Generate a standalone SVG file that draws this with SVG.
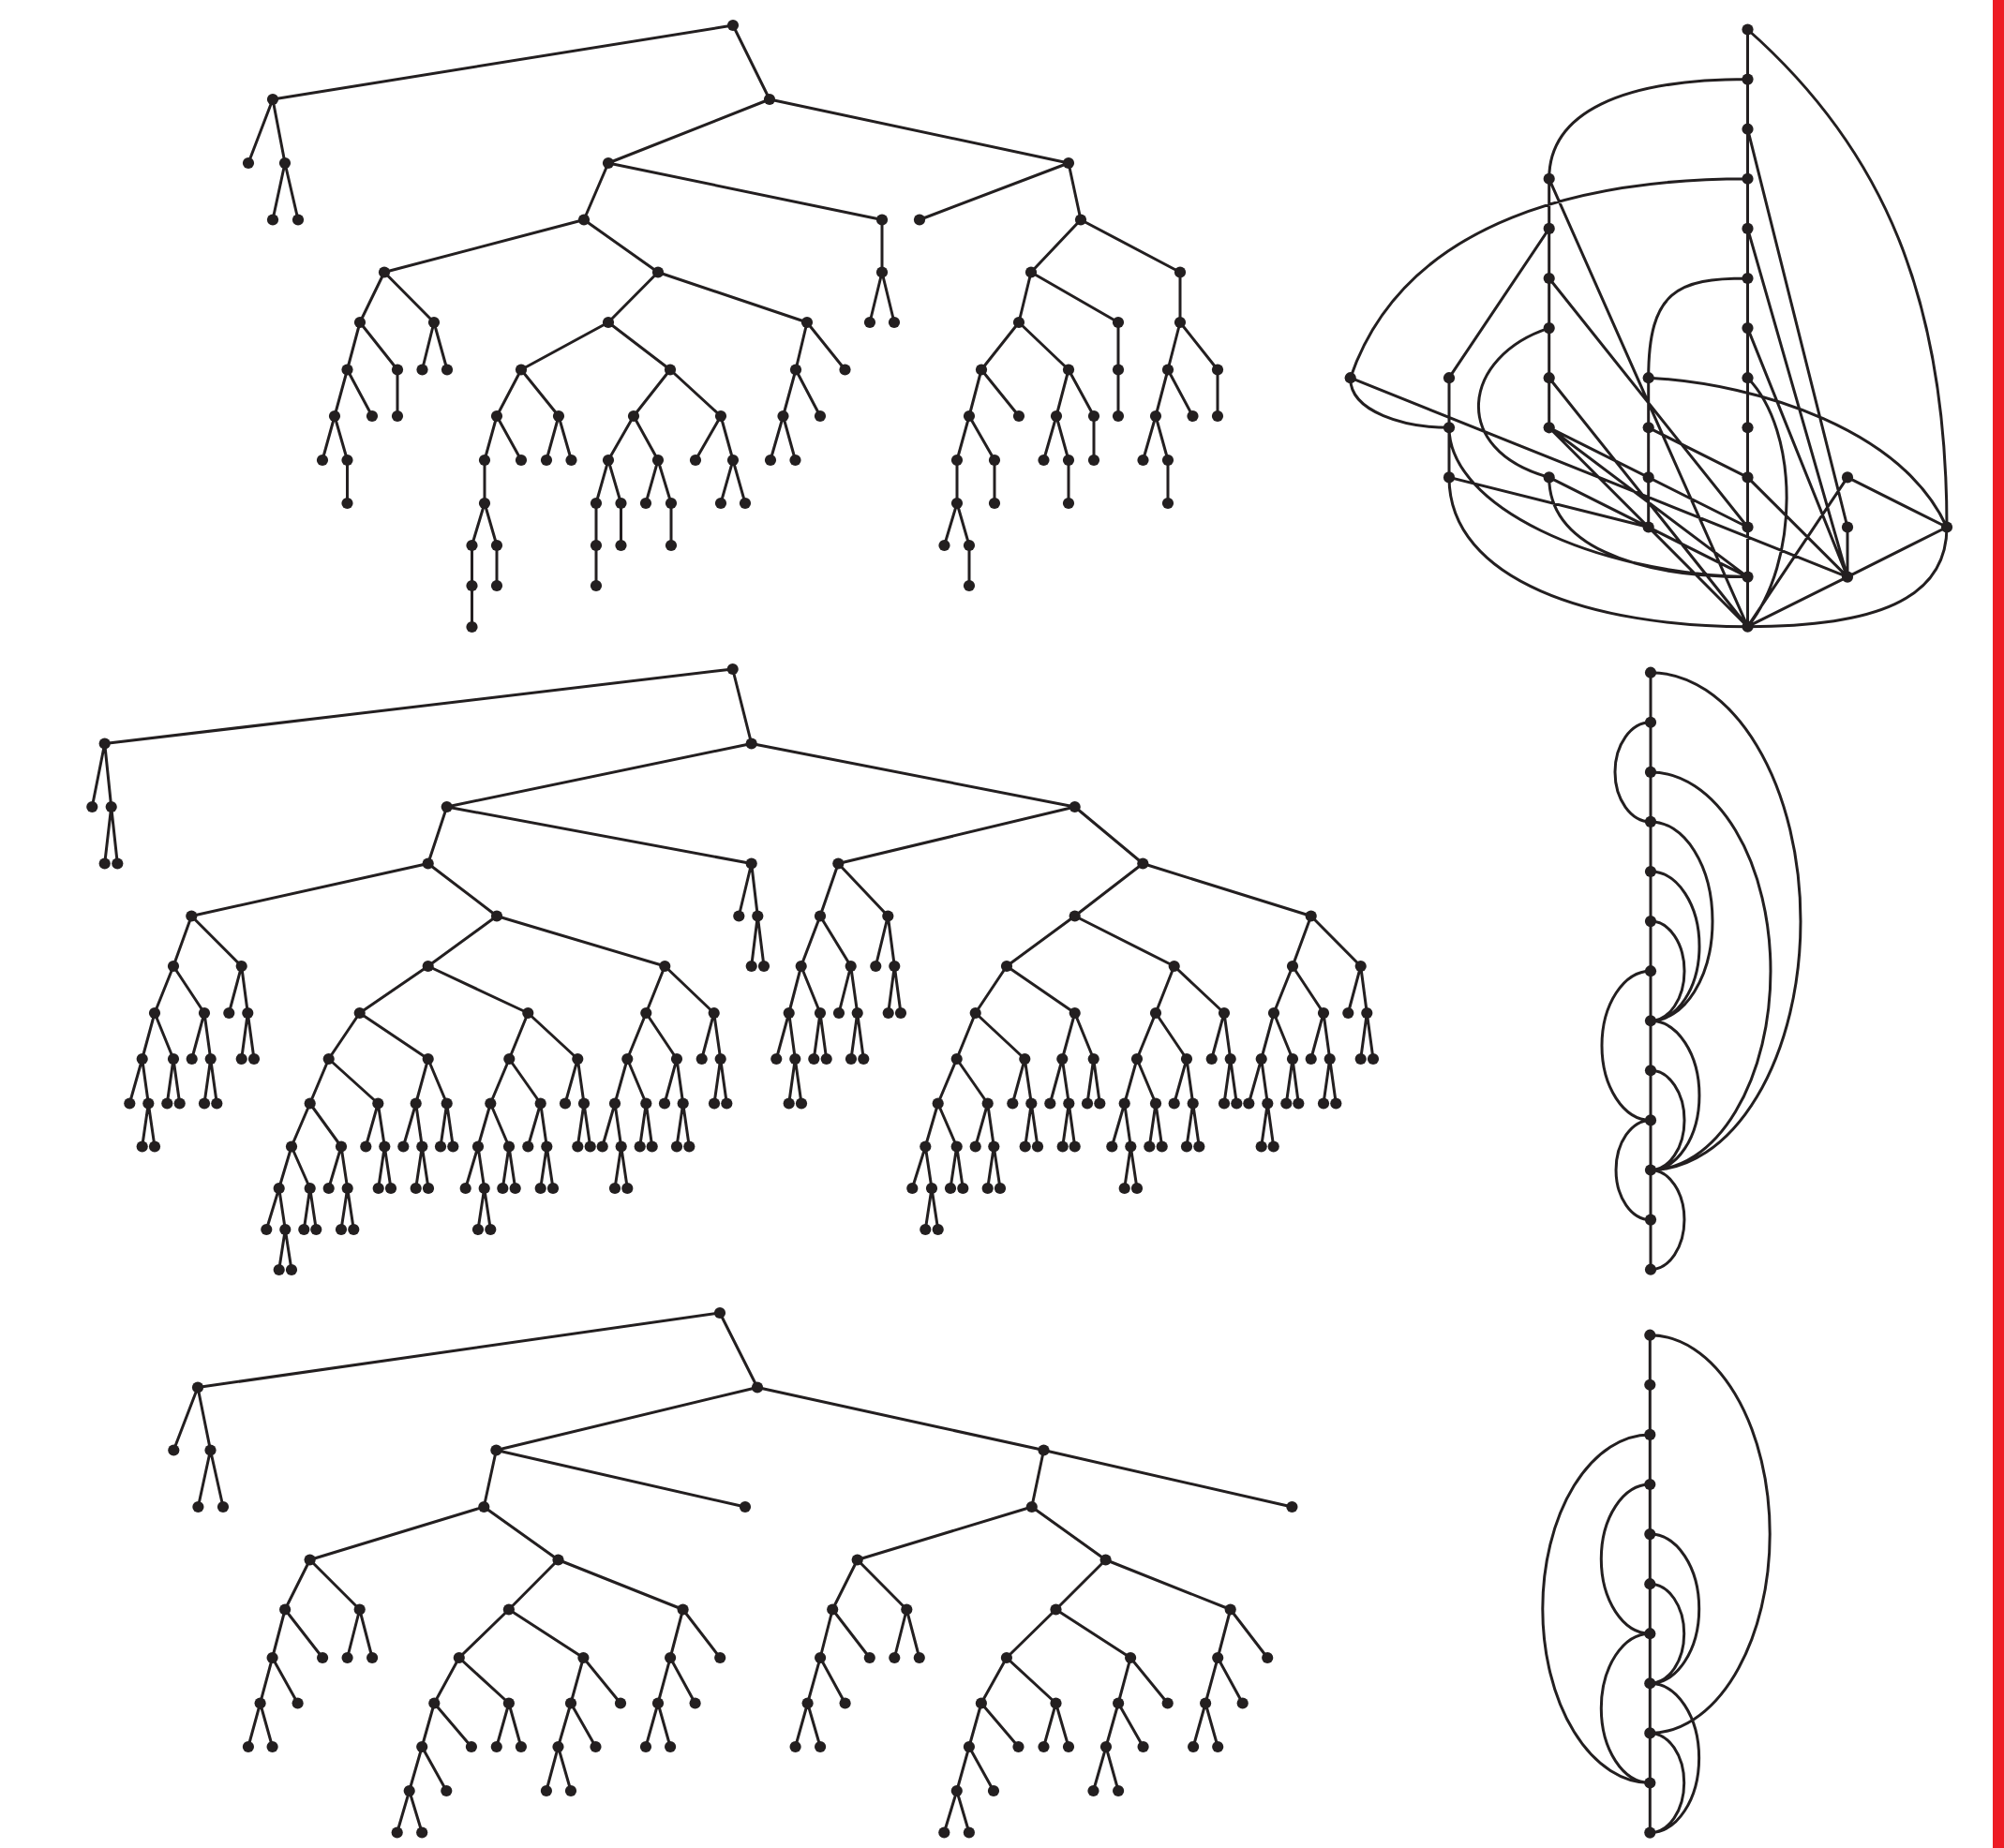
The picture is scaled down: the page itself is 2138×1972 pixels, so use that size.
<svg xmlns="http://www.w3.org/2000/svg" width="2138" height="1972" viewBox="0 0 2138 1972">
<style>
.e{fill:none;stroke:#231f20;stroke-width:3;stroke-linejoin:round;stroke-linecap:round}
circle{fill:#231f20;r:6.1px}
</style>
<rect x="0" y="0" width="2138" height="1972" fill="#ffffff"/>
<rect x="2126" y="0" width="12" height="1972" fill="#ed1c24"/>
<g id="connectors">
<path class="e" id="top-tree-edges" d="M291,106L782,27L821,106M265,174L291,106L304,174M291,234.5L304,174L318,234.5M649,174L821,106L1140,174M623,234.5L649,174L941,234.5M941,234.5L941,290.5M928,344L941,290.5L954,344M981,234.5L1140,174L1153,234.5M1100,290.5L1153,234.5L1259,290.5M1087,344L1100,290.5L1193,344M1047,394.5L1087,344L1140,394.5M1034,444L1047,394.5L1087,444M1021,491L1034,444L1061,491M1021,491L1021,537M1007.5,582L1021,537L1034,582M1034,582L1034,625M1061,491L1061,537M1127,444L1140,394.5L1167,444M1113.5,491L1127,444L1140,491M1140,491L1140,537M1167,444L1167,491M1193,344L1193,444M1259,290.5L1259,344M1246,394.5L1259,344L1299,394.5M1233,444L1246,394.5L1272.5,444M1219.5,491L1233,444L1246,491M1246,491L1246,537M1299,394.5L1299,444M410,290.5L623,234.5L702,290.5M384,344L410,290.5L463,344M370.5,394.5L384,344L424,394.5M357,444L370.5,394.5L397,444M344,491L357,444L370.5,491M370.5,491L370.5,537M424,394.5L424,444M450.5,394.5L463,344L477,394.5M649,344L702,290.5L861,344M556,394.5L649,344L715,394.5M530,444L556,394.5L596,444M517,491L530,444L556,491M517,491L517,537M503.5,582L517,537L530,582M503.5,582L503.5,669M530,582L530,625M583,491L596,444L609.5,491M676,444L715,394.5L769,444M649,491L676,444L702,491M636,537L649,491L662.5,537M636,537L636,625M662.5,537L662.5,582M689,537L702,491L716,537M716,537L716,582M742,491L769,444L782,491M769,537L782,491L795,537M849,394.5L861,344L901.5,394.5M835.5,444L849,394.5L875,444M822,491L835.5,444L848.5,491"/>
<path class="e" id="middle-tree-edges" d="M111.7,793.5L781.7,714L801.7,793.5M98.3,861L111.7,793.5L118.7,861M111.7,921.5L118.7,861L125.3,921.5M476.7,861L801.7,793.5L1146.7,861M456.7,921.5L476.7,861L801.7,921.5M788.3,977.5L801.7,921.5L808.3,977.5M801.7,1031L808.3,977.5L815,1031M204.3,977.5L456.7,921.5L530,977.5M185,1031L204.3,977.5L257.7,1031M165,1081L185,1031L218,1081M151.7,1130L165,1081L185,1130M138.3,1177.5L151.7,1130L158.3,1177.5M151.7,1223.5L158.3,1177.5L165,1223.5M178.3,1177.5L185,1130L191.7,1177.5M204.7,1130L218,1081L224.7,1130M218,1177.5L224.7,1130L231.3,1177.5M244.3,1081L257.7,1031L264.3,1081M257.7,1130L264.3,1081L271,1130M456.7,1031L530,977.5L709.3,1031M383.7,1081L456.7,1031L563.3,1081M350.7,1130L383.7,1081L456.7,1130M330.7,1177.5L350.7,1130L403.3,1177.5M311,1223.5L330.7,1177.5L364,1223.5M297.7,1268L311,1223.5L330.7,1268M284.3,1312L297.7,1268L304.3,1312M297.7,1355L304.3,1312L311,1355M324.3,1312L330.7,1268L337.3,1312M350.7,1268L364,1223.5L370.7,1268M364,1312L370.7,1268L377.3,1312M390.3,1223.5L403.3,1177.5L410.3,1223.5M403.7,1268L410.3,1223.5L417,1268M443.7,1177.5L456.7,1130L476.7,1177.5M430.3,1223.5L443.7,1177.5L450.3,1223.5M443.7,1268L450.3,1223.5L457,1268M470,1223.5L476.7,1177.5L483.3,1223.5M543.3,1130L563.3,1081L616.3,1130M523.3,1177.5L543.3,1130L576.7,1177.5M510,1223.5L523.3,1177.5L543,1223.5M496.7,1268L510,1223.5L516.7,1268M510,1312L516.7,1268L523.3,1312M536.3,1268L543,1223.5L549.7,1268M563.3,1223.5L576.7,1177.5L583.3,1223.5M576.7,1268L583.3,1223.5L590,1268M603,1177.5L616.3,1130L623,1177.5M616.3,1223.5L623,1177.5L629.7,1223.5M689.3,1081L709.3,1031L761.7,1081M669.3,1130L689.3,1081L722,1130M656,1177.5L669.3,1130L689.3,1177.5M642.7,1223.5L656,1177.5L662.7,1223.5M656,1268L662.7,1223.5L669.3,1268M682.7,1223.5L689.3,1177.5L695.7,1223.5M709,1177.5L722,1130L728.7,1177.5M722,1223.5L728.7,1177.5L735.3,1223.5M748.7,1130L761.7,1081L768.7,1130M762,1177.5L768.7,1130L775.3,1177.5M894.3,921.5L1146.7,861L1219.3,921.5M875,977.5L894.3,921.5L947.3,977.5M854.7,1031L875,977.5L907.7,1031M841.7,1081L854.7,1031L875,1081M828.3,1130L841.7,1081L848.3,1130M841.7,1177.5L848.3,1130L855,1177.5M868.3,1130L875,1081L881.7,1130M895,1081L907.7,1031L914.7,1081M908,1130L914.7,1081L921.3,1130M934.3,1031L947.3,977.5L954.3,1031M947.7,1081L954.3,1031L961,1081M1146.7,977.5L1219.3,921.5L1398.7,977.5M1074,1031L1146.7,977.5L1252.7,1031M1040.7,1081L1074,1031L1146.7,1081M1020.7,1130L1040.7,1081L1093.3,1130M1000.7,1177.5L1020.7,1130L1053.7,1177.5M987.3,1223.5L1000.7,1177.5L1020.7,1223.5M973.3,1268L987.3,1223.5L994,1268M987.3,1312L994,1268L1000.7,1312M1014,1268L1020.7,1223.5L1027.3,1268M1040.7,1223.5L1053.7,1177.5L1060.3,1223.5M1053.7,1268L1060.3,1223.5L1067,1268M1080.3,1177.5L1093.3,1130L1100.3,1177.5M1093.7,1223.5L1100.3,1177.5L1107,1223.5M1133.3,1130L1146.7,1081L1166.7,1130M1120.3,1177.5L1133.3,1130L1140.3,1177.5M1133.7,1223.5L1140.3,1177.5L1146.7,1223.5M1160,1177.5L1166.7,1130L1173.3,1177.5M1233,1081L1252.7,1031L1306,1081M1213,1130L1233,1081L1266,1130M1199.7,1177.5L1213,1130L1233,1177.5M1186.3,1223.5L1199.7,1177.5L1206.3,1223.5M1199.7,1268L1206.3,1223.5L1213,1268M1226.3,1223.5L1233,1177.5L1239.7,1223.5M1252.7,1177.5L1266,1130L1272.7,1177.5M1266,1223.5L1272.7,1177.5L1279.3,1223.5M1292.7,1130L1306,1081L1312.7,1130M1306,1177.5L1312.7,1130L1319.3,1177.5M1379,1031L1398.7,977.5L1451.7,1031M1359,1081L1379,1031L1412,1081M1345.7,1130L1359,1081L1379,1130M1332.3,1177.5L1345.7,1130L1352.3,1177.5M1345.7,1223.5L1352.3,1177.5L1358.7,1223.5M1372.3,1177.5L1379,1130L1385.3,1177.5M1398.7,1130L1412,1081L1418.7,1130M1412,1177.5L1418.7,1130L1425.3,1177.5M1438.3,1081L1451.7,1031L1458.3,1081M1451.7,1130L1458.3,1081L1465,1130"/>
<path class="e" id="bottom-tree-edges" d="M211,1480.5L768,1401L808,1480.5M185.3,1547.5L211,1480.5L224.5,1547.5M211.4,1608L224.5,1547.5L238,1608M529.4,1547.5L808,1480.5L1113.5,1547.5M516.3,1608L529.4,1547.5L795,1608M330.6,1664.5L516.3,1608L595.5,1664.5M304.1,1717.5L330.6,1664.5L383.7,1717.5M290.6,1769L304.1,1717.5L344.1,1769M277.6,1817.5L290.6,1769L317.6,1817.5M264.9,1864L277.6,1817.5L290.6,1864M370.6,1769L383.7,1717.5L397.1,1769M542.9,1717.5L595.5,1664.5L728.6,1717.5M489.8,1769L542.9,1717.5L622.4,1769M463.3,1817.5L489.8,1769L542.9,1817.5M450.2,1864L463.3,1817.5L502.9,1864M436.7,1911L450.2,1864L476.3,1911M423.7,1955.5L436.7,1911L450.2,1955.5M529.8,1864L542.9,1817.5L555.9,1864M609,1817.5L622.4,1769L662,1817.5M595.5,1864L609,1817.5L635.5,1864M582.9,1911L595.5,1864L609,1911M715.1,1769L728.6,1717.5L768.2,1769M702,1817.5L715.1,1769L741.6,1817.5M689,1864L702,1817.5L715.1,1864M1100.8,1608L1113.5,1547.5L1378.4,1608M914.7,1664.5L1100.8,1608L1179.6,1664.5M888.2,1717.5L914.7,1664.5L967.3,1717.5M875.1,1769L888.2,1717.5L927.8,1769M861.6,1817.5L875.1,1769L901.6,1817.5M848.6,1864L861.6,1817.5L875.1,1864M954.3,1769L967.3,1717.5L980.8,1769M1126.5,1717.5L1179.6,1664.5L1312.7,1717.5M1073.9,1769L1126.5,1717.5L1206.1,1769M1046.9,1817.5L1073.9,1769L1126.5,1817.5M1033.9,1864L1046.9,1817.5L1086.5,1864M1020.8,1911L1033.9,1864L1060,1911M1007.3,1955.5L1020.8,1911L1033.9,1955.5M1113.5,1864L1126.5,1817.5L1140,1864M1193.1,1817.5L1206.1,1769L1245.7,1817.5M1180,1864L1193.1,1817.5L1219.6,1864M1166.5,1911L1180,1864L1193.1,1911M1299.2,1769L1312.7,1717.5L1352.2,1769M1286.1,1817.5L1299.2,1769L1325.7,1817.5M1273.1,1864L1286.1,1817.5L1299.2,1864"/>
<path class="e" id="graph1-edges" d="M1864.5,31.5V668.7M1652.7,190.8V456.3M1758.7,403.2V562.5M1546,403.2V509.4M1971,562.5V615.6M1864.5,137.7L1971,562.5M1864.5,243.9L1971,615.6M1864.5,350.1L1971,615.6M1864.5,509.4L1971,615.6M1440.7,403.2L1971,615.6M1971,509.4L2077,562.5M1971,509.4L1864.5,668.7M1971,615.6L2077,562.5M1971,615.6L1864.5,668.7M1652.7,190.8L1864.5,668.7M1652.7,243.9L1546,403.2M1652.7,297L1864.5,562.5M1652.7,403.2L1864.5,668.7M1652.7,456.3L1864.5,562.5M1652.7,456.3L1864.5,615.6M1652.7,456.3L1864.5,668.7M1652.7,509.4L1864.5,615.6M1546,509.4L1758.7,562.5M1758.7,456.3L1864.5,509.4M1864.5,31.5C2010,160 2077,320 2077,562.5M1864.5,84.6C1730,84.6 1652.7,120 1652.7,190.8M1864.5,190.8C1700,190.8 1500,230 1440.7,403.2M1864.5,297C1790,297 1758.7,310 1758.7,403.2M1440.7,403.2C1440,440 1500,456.3 1546,456.3M1652.7,350.1C1560,380 1545,480 1652.7,509.4M1652.7,509.4C1652.7,580 1740,615.6 1864.5,615.6M1546,456.3C1546,540 1700,612 1864.5,615.6M1546,509.4C1546,620 1700,668.7 1864.5,668.7M1864.5,403.2C1920,460 1920,600 1864.5,668.7M1758.7,403.2C1880,410 2030,460 2077,562.5M2077,562.5C2077,640 2000,668.7 1864.5,668.7"/>
<path class="e" id="graph2-edges" d="M1761,717.7V1354.7M1761,717.7A160,265.4 0 0 1 1761,1248.5M1761,823.9A128,212.3 0 0 1 1761,1248.5M1761,876.9A66,106.2 0 0 1 1761,1089.3M1761,930A52,79.65 0 0 1 1761,1089.3M1761,983.1A36,53.1 0 0 1 1761,1089.3M1761,1089.3A52,79.6 0 0 1 1761,1248.5M1761,1142.3A36,53.1 0 0 1 1761,1248.5M1761,1248.5A36,53.1 0 0 1 1761,1354.7M1761,770.8A38,53.05 0 0 0 1761,876.9M1761,1036.2A52,79.6 0 0 0 1761,1195.4M1761,1195.4A37,53.1 0 0 0 1761,1301.6"/>
<path class="e" id="graph3-edges" d="M1760.3,1424.7V1955.6M1760.3,1424.7A128,212.35 0 0 1 1760.3,1849.4M1760.3,1530.9A114.5,185.8 0 0 0 1760.3,1902.5M1760.3,1584A52,79.6 0 0 0 1760.3,1743.2M1760.3,1743.2A52,79.65 0 0 0 1760.3,1902.5M1760.3,1637.1A52.4,79.6 0 0 1 1760.3,1796.3M1760.3,1690.2A36.4,53.05 0 0 1 1760.3,1796.3M1760.3,1796.3A52.4,79.65 0 0 1 1760.3,1955.6M1760.3,1849.4A36.4,53.1 0 0 1 1760.3,1955.6"/>
</g>
<g id="top-tree">
<g id="t0"><circle cx="782" cy="27"/></g><g id="t1"><circle cx="291" cy="106"/></g><g id="t2"><circle cx="821" cy="106"/></g><g id="t3"><circle cx="265" cy="174"/></g><g id="t4"><circle cx="304" cy="174"/></g><g id="t5"><circle cx="291" cy="234.5"/></g><g id="t6"><circle cx="318" cy="234.5"/></g><g id="t7"><circle cx="649" cy="174"/></g><g id="t8"><circle cx="1140" cy="174"/></g><g id="t9"><circle cx="623" cy="234.5"/></g><g id="t10"><circle cx="941" cy="234.5"/></g><g id="t11"><circle cx="941" cy="290.5"/></g><g id="t12"><circle cx="928" cy="344"/></g><g id="t13"><circle cx="954" cy="344"/></g><g id="t14"><circle cx="981" cy="234.5"/></g><g id="t15"><circle cx="1153" cy="234.5"/></g><g id="t16"><circle cx="1100" cy="290.5"/></g><g id="t17"><circle cx="1259" cy="290.5"/></g><g id="t18"><circle cx="1087" cy="344"/></g><g id="t19"><circle cx="1193" cy="344"/></g><g id="t20"><circle cx="1047" cy="394.5"/></g><g id="t21"><circle cx="1140" cy="394.5"/></g><g id="t22"><circle cx="1034" cy="444"/></g><g id="t23"><circle cx="1087" cy="444"/></g><g id="t24"><circle cx="1021" cy="491"/></g><g id="t25"><circle cx="1061" cy="491"/></g><g id="t26"><circle cx="1021" cy="537"/></g><g id="t27"><circle cx="1007.5" cy="582"/></g><g id="t28"><circle cx="1034" cy="582"/></g><g id="t29"><circle cx="1034" cy="625"/></g><g id="t30"><circle cx="1061" cy="537"/></g><g id="t31"><circle cx="1127" cy="444"/></g><g id="t32"><circle cx="1167" cy="444"/></g><g id="t33"><circle cx="1113.5" cy="491"/></g><g id="t34"><circle cx="1140" cy="491"/></g><g id="t35"><circle cx="1140" cy="537"/></g><g id="t36"><circle cx="1167" cy="491"/></g><g id="t37"><circle cx="1193" cy="394.5"/></g><g id="t38"><circle cx="1193" cy="444"/></g><g id="t39"><circle cx="1259" cy="344"/></g><g id="t40"><circle cx="1246" cy="394.5"/></g><g id="t41"><circle cx="1299" cy="394.5"/></g><g id="t42"><circle cx="1233" cy="444"/></g><g id="t43"><circle cx="1272.5" cy="444"/></g><g id="t44"><circle cx="1219.5" cy="491"/></g><g id="t45"><circle cx="1246" cy="491"/></g><g id="t46"><circle cx="1246" cy="537"/></g><g id="t47"><circle cx="1299" cy="444"/></g><g id="t48"><circle cx="410" cy="290.5"/></g><g id="t49"><circle cx="702" cy="290.5"/></g><g id="t50"><circle cx="384" cy="344"/></g><g id="t51"><circle cx="463" cy="344"/></g><g id="t52"><circle cx="370.5" cy="394.5"/></g><g id="t53"><circle cx="424" cy="394.5"/></g><g id="t54"><circle cx="357" cy="444"/></g><g id="t55"><circle cx="397" cy="444"/></g><g id="t56"><circle cx="344" cy="491"/></g><g id="t57"><circle cx="370.5" cy="491"/></g><g id="t58"><circle cx="370.5" cy="537"/></g><g id="t59"><circle cx="424" cy="444"/></g><g id="t60"><circle cx="450.5" cy="394.5"/></g><g id="t61"><circle cx="477" cy="394.5"/></g><g id="t62"><circle cx="649" cy="344"/></g><g id="t63"><circle cx="861" cy="344"/></g><g id="t64"><circle cx="556" cy="394.5"/></g><g id="t65"><circle cx="715" cy="394.5"/></g><g id="t66"><circle cx="530" cy="444"/></g><g id="t67"><circle cx="596" cy="444"/></g><g id="t68"><circle cx="517" cy="491"/></g><g id="t69"><circle cx="556" cy="491"/></g><g id="t70"><circle cx="517" cy="537"/></g><g id="t71"><circle cx="503.5" cy="582"/></g><g id="t72"><circle cx="530" cy="582"/></g><g id="t73"><circle cx="503.5" cy="625"/></g><g id="t74"><circle cx="503.5" cy="669"/></g><g id="t75"><circle cx="530" cy="625"/></g><g id="t76"><circle cx="583" cy="491"/></g><g id="t77"><circle cx="609.5" cy="491"/></g><g id="t78"><circle cx="676" cy="444"/></g><g id="t79"><circle cx="769" cy="444"/></g><g id="t80"><circle cx="649" cy="491"/></g><g id="t81"><circle cx="702" cy="491"/></g><g id="t82"><circle cx="636" cy="537"/></g><g id="t83"><circle cx="662.5" cy="537"/></g><g id="t84"><circle cx="636" cy="582"/></g><g id="t85"><circle cx="636" cy="625"/></g><g id="t86"><circle cx="662.5" cy="582"/></g><g id="t87"><circle cx="689" cy="537"/></g><g id="t88"><circle cx="716" cy="537"/></g><g id="t89"><circle cx="716" cy="582"/></g><g id="t90"><circle cx="742" cy="491"/></g><g id="t91"><circle cx="782" cy="491"/></g><g id="t92"><circle cx="769" cy="537"/></g><g id="t93"><circle cx="795" cy="537"/></g><g id="t94"><circle cx="849" cy="394.5"/></g><g id="t95"><circle cx="901.5" cy="394.5"/></g><g id="t96"><circle cx="835.5" cy="444"/></g><g id="t97"><circle cx="875" cy="444"/></g><g id="t98"><circle cx="822" cy="491"/></g><g id="t99"><circle cx="848.5" cy="491"/></g>
</g>
<g id="middle-tree">
<g id="m0"><circle cx="781.7" cy="714"/></g><g id="m1"><circle cx="111.7" cy="793.5"/></g><g id="m2"><circle cx="801.7" cy="793.5"/></g><g id="m3"><circle cx="98.3" cy="861"/></g><g id="m4"><circle cx="118.7" cy="861"/></g><g id="m5"><circle cx="111.7" cy="921.5"/></g><g id="m6"><circle cx="125.3" cy="921.5"/></g><g id="m7"><circle cx="476.7" cy="861"/></g><g id="m8"><circle cx="1146.7" cy="861"/></g><g id="m9"><circle cx="456.7" cy="921.5"/></g><g id="m10"><circle cx="801.7" cy="921.5"/></g><g id="m11"><circle cx="788.3" cy="977.5"/></g><g id="m12"><circle cx="808.3" cy="977.5"/></g><g id="m13"><circle cx="801.7" cy="1031"/></g><g id="m14"><circle cx="815" cy="1031"/></g><g id="m15"><circle cx="204.3" cy="977.5"/></g><g id="m16"><circle cx="530" cy="977.5"/></g><g id="m17"><circle cx="185" cy="1031"/></g><g id="m18"><circle cx="257.7" cy="1031"/></g><g id="m19"><circle cx="165" cy="1081"/></g><g id="m20"><circle cx="218" cy="1081"/></g><g id="m21"><circle cx="151.7" cy="1130"/></g><g id="m22"><circle cx="185" cy="1130"/></g><g id="m23"><circle cx="138.3" cy="1177.5"/></g><g id="m24"><circle cx="158.3" cy="1177.5"/></g><g id="m25"><circle cx="151.7" cy="1223.5"/></g><g id="m26"><circle cx="165" cy="1223.5"/></g><g id="m27"><circle cx="178.3" cy="1177.5"/></g><g id="m28"><circle cx="191.7" cy="1177.5"/></g><g id="m29"><circle cx="204.7" cy="1130"/></g><g id="m30"><circle cx="224.7" cy="1130"/></g><g id="m31"><circle cx="218" cy="1177.5"/></g><g id="m32"><circle cx="231.3" cy="1177.5"/></g><g id="m33"><circle cx="244.3" cy="1081"/></g><g id="m34"><circle cx="264.3" cy="1081"/></g><g id="m35"><circle cx="257.7" cy="1130"/></g><g id="m36"><circle cx="271" cy="1130"/></g><g id="m37"><circle cx="456.7" cy="1031"/></g><g id="m38"><circle cx="709.3" cy="1031"/></g><g id="m39"><circle cx="383.7" cy="1081"/></g><g id="m40"><circle cx="563.3" cy="1081"/></g><g id="m41"><circle cx="350.7" cy="1130"/></g><g id="m42"><circle cx="456.7" cy="1130"/></g><g id="m43"><circle cx="330.7" cy="1177.5"/></g><g id="m44"><circle cx="403.3" cy="1177.5"/></g><g id="m45"><circle cx="311" cy="1223.5"/></g><g id="m46"><circle cx="364" cy="1223.5"/></g><g id="m47"><circle cx="297.7" cy="1268"/></g><g id="m48"><circle cx="330.7" cy="1268"/></g><g id="m49"><circle cx="284.3" cy="1312"/></g><g id="m50"><circle cx="304.3" cy="1312"/></g><g id="m51"><circle cx="297.7" cy="1355"/></g><g id="m52"><circle cx="311" cy="1355"/></g><g id="m53"><circle cx="324.3" cy="1312"/></g><g id="m54"><circle cx="337.3" cy="1312"/></g><g id="m55"><circle cx="350.7" cy="1268"/></g><g id="m56"><circle cx="370.7" cy="1268"/></g><g id="m57"><circle cx="364" cy="1312"/></g><g id="m58"><circle cx="377.3" cy="1312"/></g><g id="m59"><circle cx="390.3" cy="1223.5"/></g><g id="m60"><circle cx="410.3" cy="1223.5"/></g><g id="m61"><circle cx="403.7" cy="1268"/></g><g id="m62"><circle cx="417" cy="1268"/></g><g id="m63"><circle cx="443.7" cy="1177.5"/></g><g id="m64"><circle cx="476.7" cy="1177.5"/></g><g id="m65"><circle cx="430.3" cy="1223.5"/></g><g id="m66"><circle cx="450.3" cy="1223.5"/></g><g id="m67"><circle cx="443.7" cy="1268"/></g><g id="m68"><circle cx="457" cy="1268"/></g><g id="m69"><circle cx="470" cy="1223.5"/></g><g id="m70"><circle cx="483.3" cy="1223.5"/></g><g id="m71"><circle cx="543.3" cy="1130"/></g><g id="m72"><circle cx="616.3" cy="1130"/></g><g id="m73"><circle cx="523.3" cy="1177.5"/></g><g id="m74"><circle cx="576.7" cy="1177.5"/></g><g id="m75"><circle cx="510" cy="1223.5"/></g><g id="m76"><circle cx="543" cy="1223.5"/></g><g id="m77"><circle cx="496.7" cy="1268"/></g><g id="m78"><circle cx="516.7" cy="1268"/></g><g id="m79"><circle cx="510" cy="1312"/></g><g id="m80"><circle cx="523.3" cy="1312"/></g><g id="m81"><circle cx="536.3" cy="1268"/></g><g id="m82"><circle cx="549.7" cy="1268"/></g><g id="m83"><circle cx="563.3" cy="1223.5"/></g><g id="m84"><circle cx="583.3" cy="1223.5"/></g><g id="m85"><circle cx="576.7" cy="1268"/></g><g id="m86"><circle cx="590" cy="1268"/></g><g id="m87"><circle cx="603" cy="1177.5"/></g><g id="m88"><circle cx="623" cy="1177.5"/></g><g id="m89"><circle cx="616.3" cy="1223.5"/></g><g id="m90"><circle cx="629.7" cy="1223.5"/></g><g id="m91"><circle cx="689.3" cy="1081"/></g><g id="m92"><circle cx="761.7" cy="1081"/></g><g id="m93"><circle cx="669.3" cy="1130"/></g><g id="m94"><circle cx="722" cy="1130"/></g><g id="m95"><circle cx="656" cy="1177.5"/></g><g id="m96"><circle cx="689.3" cy="1177.5"/></g><g id="m97"><circle cx="642.7" cy="1223.5"/></g><g id="m98"><circle cx="662.7" cy="1223.5"/></g><g id="m99"><circle cx="656" cy="1268"/></g><g id="m100"><circle cx="669.3" cy="1268"/></g><g id="m101"><circle cx="682.7" cy="1223.5"/></g><g id="m102"><circle cx="695.7" cy="1223.5"/></g><g id="m103"><circle cx="709" cy="1177.5"/></g><g id="m104"><circle cx="728.7" cy="1177.5"/></g><g id="m105"><circle cx="722" cy="1223.5"/></g><g id="m106"><circle cx="735.3" cy="1223.5"/></g><g id="m107"><circle cx="748.7" cy="1130"/></g><g id="m108"><circle cx="768.7" cy="1130"/></g><g id="m109"><circle cx="762" cy="1177.5"/></g><g id="m110"><circle cx="775.3" cy="1177.5"/></g><g id="m111"><circle cx="894.3" cy="921.5"/></g><g id="m112"><circle cx="1219.3" cy="921.5"/></g><g id="m113"><circle cx="875" cy="977.5"/></g><g id="m114"><circle cx="947.3" cy="977.5"/></g><g id="m115"><circle cx="854.7" cy="1031"/></g><g id="m116"><circle cx="907.7" cy="1031"/></g><g id="m117"><circle cx="841.7" cy="1081"/></g><g id="m118"><circle cx="875" cy="1081"/></g><g id="m119"><circle cx="828.3" cy="1130"/></g><g id="m120"><circle cx="848.3" cy="1130"/></g><g id="m121"><circle cx="841.7" cy="1177.5"/></g><g id="m122"><circle cx="855" cy="1177.5"/></g><g id="m123"><circle cx="868.3" cy="1130"/></g><g id="m124"><circle cx="881.7" cy="1130"/></g><g id="m125"><circle cx="895" cy="1081"/></g><g id="m126"><circle cx="914.7" cy="1081"/></g><g id="m127"><circle cx="908" cy="1130"/></g><g id="m128"><circle cx="921.3" cy="1130"/></g><g id="m129"><circle cx="934.3" cy="1031"/></g><g id="m130"><circle cx="954.3" cy="1031"/></g><g id="m131"><circle cx="947.7" cy="1081"/></g><g id="m132"><circle cx="961" cy="1081"/></g><g id="m133"><circle cx="1146.7" cy="977.5"/></g><g id="m134"><circle cx="1398.7" cy="977.5"/></g><g id="m135"><circle cx="1074" cy="1031"/></g><g id="m136"><circle cx="1252.7" cy="1031"/></g><g id="m137"><circle cx="1040.7" cy="1081"/></g><g id="m138"><circle cx="1146.7" cy="1081"/></g><g id="m139"><circle cx="1020.7" cy="1130"/></g><g id="m140"><circle cx="1093.3" cy="1130"/></g><g id="m141"><circle cx="1000.7" cy="1177.5"/></g><g id="m142"><circle cx="1053.7" cy="1177.5"/></g><g id="m143"><circle cx="987.3" cy="1223.5"/></g><g id="m144"><circle cx="1020.7" cy="1223.5"/></g><g id="m145"><circle cx="973.3" cy="1268"/></g><g id="m146"><circle cx="994" cy="1268"/></g><g id="m147"><circle cx="987.3" cy="1312"/></g><g id="m148"><circle cx="1000.7" cy="1312"/></g><g id="m149"><circle cx="1014" cy="1268"/></g><g id="m150"><circle cx="1027.3" cy="1268"/></g><g id="m151"><circle cx="1040.7" cy="1223.5"/></g><g id="m152"><circle cx="1060.3" cy="1223.5"/></g><g id="m153"><circle cx="1053.7" cy="1268"/></g><g id="m154"><circle cx="1067" cy="1268"/></g><g id="m155"><circle cx="1080.3" cy="1177.5"/></g><g id="m156"><circle cx="1100.3" cy="1177.5"/></g><g id="m157"><circle cx="1093.7" cy="1223.5"/></g><g id="m158"><circle cx="1107" cy="1223.5"/></g><g id="m159"><circle cx="1133.3" cy="1130"/></g><g id="m160"><circle cx="1166.7" cy="1130"/></g><g id="m161"><circle cx="1120.3" cy="1177.5"/></g><g id="m162"><circle cx="1140.3" cy="1177.5"/></g><g id="m163"><circle cx="1133.7" cy="1223.5"/></g><g id="m164"><circle cx="1146.7" cy="1223.5"/></g><g id="m165"><circle cx="1160" cy="1177.5"/></g><g id="m166"><circle cx="1173.3" cy="1177.5"/></g><g id="m167"><circle cx="1233" cy="1081"/></g><g id="m168"><circle cx="1306" cy="1081"/></g><g id="m169"><circle cx="1213" cy="1130"/></g><g id="m170"><circle cx="1266" cy="1130"/></g><g id="m171"><circle cx="1199.7" cy="1177.5"/></g><g id="m172"><circle cx="1233" cy="1177.5"/></g><g id="m173"><circle cx="1186.3" cy="1223.5"/></g><g id="m174"><circle cx="1206.3" cy="1223.5"/></g><g id="m175"><circle cx="1199.7" cy="1268"/></g><g id="m176"><circle cx="1213" cy="1268"/></g><g id="m177"><circle cx="1226.3" cy="1223.5"/></g><g id="m178"><circle cx="1239.7" cy="1223.5"/></g><g id="m179"><circle cx="1252.7" cy="1177.5"/></g><g id="m180"><circle cx="1272.7" cy="1177.5"/></g><g id="m181"><circle cx="1266" cy="1223.5"/></g><g id="m182"><circle cx="1279.3" cy="1223.5"/></g><g id="m183"><circle cx="1292.7" cy="1130"/></g><g id="m184"><circle cx="1312.7" cy="1130"/></g><g id="m185"><circle cx="1306" cy="1177.5"/></g><g id="m186"><circle cx="1319.3" cy="1177.5"/></g><g id="m187"><circle cx="1379" cy="1031"/></g><g id="m188"><circle cx="1451.7" cy="1031"/></g><g id="m189"><circle cx="1359" cy="1081"/></g><g id="m190"><circle cx="1412" cy="1081"/></g><g id="m191"><circle cx="1345.7" cy="1130"/></g><g id="m192"><circle cx="1379" cy="1130"/></g><g id="m193"><circle cx="1332.3" cy="1177.5"/></g><g id="m194"><circle cx="1352.3" cy="1177.5"/></g><g id="m195"><circle cx="1345.7" cy="1223.5"/></g><g id="m196"><circle cx="1358.7" cy="1223.5"/></g><g id="m197"><circle cx="1372.3" cy="1177.5"/></g><g id="m198"><circle cx="1385.3" cy="1177.5"/></g><g id="m199"><circle cx="1398.7" cy="1130"/></g><g id="m200"><circle cx="1418.7" cy="1130"/></g><g id="m201"><circle cx="1412" cy="1177.5"/></g><g id="m202"><circle cx="1425.3" cy="1177.5"/></g><g id="m203"><circle cx="1438.3" cy="1081"/></g><g id="m204"><circle cx="1458.3" cy="1081"/></g><g id="m205"><circle cx="1451.7" cy="1130"/></g><g id="m206"><circle cx="1465" cy="1130"/></g>
</g>
<g id="bottom-tree">
<g id="b0"><circle cx="768" cy="1401"/></g><g id="b1"><circle cx="211" cy="1480.5"/></g><g id="b2"><circle cx="808" cy="1480.5"/></g><g id="b3"><circle cx="185.3" cy="1547.5"/></g><g id="b4"><circle cx="224.5" cy="1547.5"/></g><g id="b5"><circle cx="211.4" cy="1608"/></g><g id="b6"><circle cx="238" cy="1608"/></g><g id="b7"><circle cx="529.4" cy="1547.5"/></g><g id="b8"><circle cx="1113.5" cy="1547.5"/></g><g id="b9"><circle cx="516.3" cy="1608"/></g><g id="b10"><circle cx="795" cy="1608"/></g><g id="b11"><circle cx="330.6" cy="1664.5"/></g><g id="b12"><circle cx="595.5" cy="1664.5"/></g><g id="b13"><circle cx="304.1" cy="1717.5"/></g><g id="b14"><circle cx="383.7" cy="1717.5"/></g><g id="b15"><circle cx="290.6" cy="1769"/></g><g id="b16"><circle cx="344.1" cy="1769"/></g><g id="b17"><circle cx="277.6" cy="1817.5"/></g><g id="b18"><circle cx="317.6" cy="1817.5"/></g><g id="b19"><circle cx="264.9" cy="1864"/></g><g id="b20"><circle cx="290.6" cy="1864"/></g><g id="b21"><circle cx="370.6" cy="1769"/></g><g id="b22"><circle cx="397.1" cy="1769"/></g><g id="b23"><circle cx="542.9" cy="1717.5"/></g><g id="b24"><circle cx="728.6" cy="1717.5"/></g><g id="b25"><circle cx="489.8" cy="1769"/></g><g id="b26"><circle cx="622.4" cy="1769"/></g><g id="b27"><circle cx="463.3" cy="1817.5"/></g><g id="b28"><circle cx="542.9" cy="1817.5"/></g><g id="b29"><circle cx="450.2" cy="1864"/></g><g id="b30"><circle cx="502.9" cy="1864"/></g><g id="b31"><circle cx="436.7" cy="1911"/></g><g id="b32"><circle cx="476.3" cy="1911"/></g><g id="b33"><circle cx="423.7" cy="1955.5"/></g><g id="b34"><circle cx="450.2" cy="1955.5"/></g><g id="b35"><circle cx="529.8" cy="1864"/></g><g id="b36"><circle cx="555.9" cy="1864"/></g><g id="b37"><circle cx="609" cy="1817.5"/></g><g id="b38"><circle cx="662" cy="1817.5"/></g><g id="b39"><circle cx="595.5" cy="1864"/></g><g id="b40"><circle cx="635.5" cy="1864"/></g><g id="b41"><circle cx="582.9" cy="1911"/></g><g id="b42"><circle cx="609" cy="1911"/></g><g id="b43"><circle cx="715.1" cy="1769"/></g><g id="b44"><circle cx="768.2" cy="1769"/></g><g id="b45"><circle cx="702" cy="1817.5"/></g><g id="b46"><circle cx="741.6" cy="1817.5"/></g><g id="b47"><circle cx="689" cy="1864"/></g><g id="b48"><circle cx="715.1" cy="1864"/></g><g id="b49"><circle cx="1100.8" cy="1608"/></g><g id="b50"><circle cx="1378.4" cy="1608"/></g><g id="b51"><circle cx="914.7" cy="1664.5"/></g><g id="b52"><circle cx="1179.6" cy="1664.5"/></g><g id="b53"><circle cx="888.2" cy="1717.5"/></g><g id="b54"><circle cx="967.3" cy="1717.5"/></g><g id="b55"><circle cx="875.1" cy="1769"/></g><g id="b56"><circle cx="927.8" cy="1769"/></g><g id="b57"><circle cx="861.6" cy="1817.5"/></g><g id="b58"><circle cx="901.6" cy="1817.5"/></g><g id="b59"><circle cx="848.6" cy="1864"/></g><g id="b60"><circle cx="875.1" cy="1864"/></g><g id="b61"><circle cx="954.3" cy="1769"/></g><g id="b62"><circle cx="980.8" cy="1769"/></g><g id="b63"><circle cx="1126.5" cy="1717.5"/></g><g id="b64"><circle cx="1312.7" cy="1717.5"/></g><g id="b65"><circle cx="1073.9" cy="1769"/></g><g id="b66"><circle cx="1206.1" cy="1769"/></g><g id="b67"><circle cx="1046.9" cy="1817.5"/></g><g id="b68"><circle cx="1126.5" cy="1817.5"/></g><g id="b69"><circle cx="1033.9" cy="1864"/></g><g id="b70"><circle cx="1086.5" cy="1864"/></g><g id="b71"><circle cx="1020.8" cy="1911"/></g><g id="b72"><circle cx="1060" cy="1911"/></g><g id="b73"><circle cx="1007.3" cy="1955.5"/></g><g id="b74"><circle cx="1033.9" cy="1955.5"/></g><g id="b75"><circle cx="1113.5" cy="1864"/></g><g id="b76"><circle cx="1140" cy="1864"/></g><g id="b77"><circle cx="1193.1" cy="1817.5"/></g><g id="b78"><circle cx="1245.7" cy="1817.5"/></g><g id="b79"><circle cx="1180" cy="1864"/></g><g id="b80"><circle cx="1219.6" cy="1864"/></g><g id="b81"><circle cx="1166.5" cy="1911"/></g><g id="b82"><circle cx="1193.1" cy="1911"/></g><g id="b83"><circle cx="1299.2" cy="1769"/></g><g id="b84"><circle cx="1352.2" cy="1769"/></g><g id="b85"><circle cx="1286.1" cy="1817.5"/></g><g id="b86"><circle cx="1325.7" cy="1817.5"/></g><g id="b87"><circle cx="1273.1" cy="1864"/></g><g id="b88"><circle cx="1299.2" cy="1864"/></g>
</g>
<g id="graph1">
<g id="gA0"><circle cx="1864.5" cy="31.5"/></g><g id="gA1"><circle cx="1864.5" cy="84.6"/></g><g id="gA2"><circle cx="1864.5" cy="137.7"/></g><g id="gA3"><circle cx="1864.5" cy="190.8"/></g><g id="gA4"><circle cx="1864.5" cy="243.9"/></g><g id="gA5"><circle cx="1864.5" cy="297"/></g><g id="gA6"><circle cx="1864.5" cy="350.1"/></g><g id="gA7"><circle cx="1864.5" cy="403.2"/></g><g id="gA8"><circle cx="1864.5" cy="456.3"/></g><g id="gA9"><circle cx="1864.5" cy="509.4"/></g><g id="gA10"><circle cx="1864.5" cy="562.5"/></g><g id="gA11"><circle cx="1864.5" cy="615.6"/></g><g id="gA12"><circle cx="1864.5" cy="668.7"/></g>
<g id="gB3"><circle cx="1652.7" cy="190.8"/></g><g id="gB4"><circle cx="1652.7" cy="243.9"/></g><g id="gB5"><circle cx="1652.7" cy="297"/></g><g id="gB6"><circle cx="1652.7" cy="350.1"/></g><g id="gB7"><circle cx="1652.7" cy="403.2"/></g><g id="gB8"><circle cx="1652.7" cy="456.3"/></g><g id="gB9"><circle cx="1652.7" cy="509.4"/></g>
<g id="gC7"><circle cx="1758.7" cy="403.2"/></g><g id="gC8"><circle cx="1758.7" cy="456.3"/></g><g id="gC9"><circle cx="1758.7" cy="509.4"/></g><g id="gC10"><circle cx="1758.7" cy="562.5"/></g>
<g id="gD7"><circle cx="1546" cy="403.2"/></g><g id="gD8"><circle cx="1546" cy="456.3"/></g><g id="gD9"><circle cx="1546" cy="509.4"/></g>
<g id="gL"><circle cx="1440.7" cy="403.2"/></g><g id="gR9"><circle cx="1971" cy="509.4"/></g><g id="gR10"><circle cx="1971" cy="562.5"/></g><g id="gR11"><circle cx="1971" cy="615.6"/></g><g id="gE"><circle cx="2077" cy="562.5"/></g>
</g>
<g id="graph2">
<g id="h0"><circle cx="1761" cy="717.7"/></g><g id="h1"><circle cx="1761" cy="770.8"/></g><g id="h2"><circle cx="1761" cy="823.9"/></g><g id="h3"><circle cx="1761" cy="876.9"/></g><g id="h4"><circle cx="1761" cy="930"/></g><g id="h5"><circle cx="1761" cy="983.1"/></g><g id="h6"><circle cx="1761" cy="1036.2"/></g><g id="h7"><circle cx="1761" cy="1089.3"/></g><g id="h8"><circle cx="1761" cy="1142.3"/></g><g id="h9"><circle cx="1761" cy="1195.4"/></g><g id="h10"><circle cx="1761" cy="1248.5"/></g><g id="h11"><circle cx="1761" cy="1301.6"/></g><g id="h12"><circle cx="1761" cy="1354.7"/></g>
</g>
<g id="graph3">
<g id="k0"><circle cx="1760.3" cy="1424.7"/></g><g id="k1"><circle cx="1760.3" cy="1477.8"/></g><g id="k2"><circle cx="1760.3" cy="1530.9"/></g><g id="k3"><circle cx="1760.3" cy="1584"/></g><g id="k4"><circle cx="1760.3" cy="1637.1"/></g><g id="k5"><circle cx="1760.3" cy="1690.2"/></g><g id="k6"><circle cx="1760.3" cy="1743.2"/></g><g id="k7"><circle cx="1760.3" cy="1796.3"/></g><g id="k8"><circle cx="1760.3" cy="1849.4"/></g><g id="k9"><circle cx="1760.3" cy="1902.5"/></g><g id="k10"><circle cx="1760.3" cy="1955.6"/></g>
</g>
</svg>
